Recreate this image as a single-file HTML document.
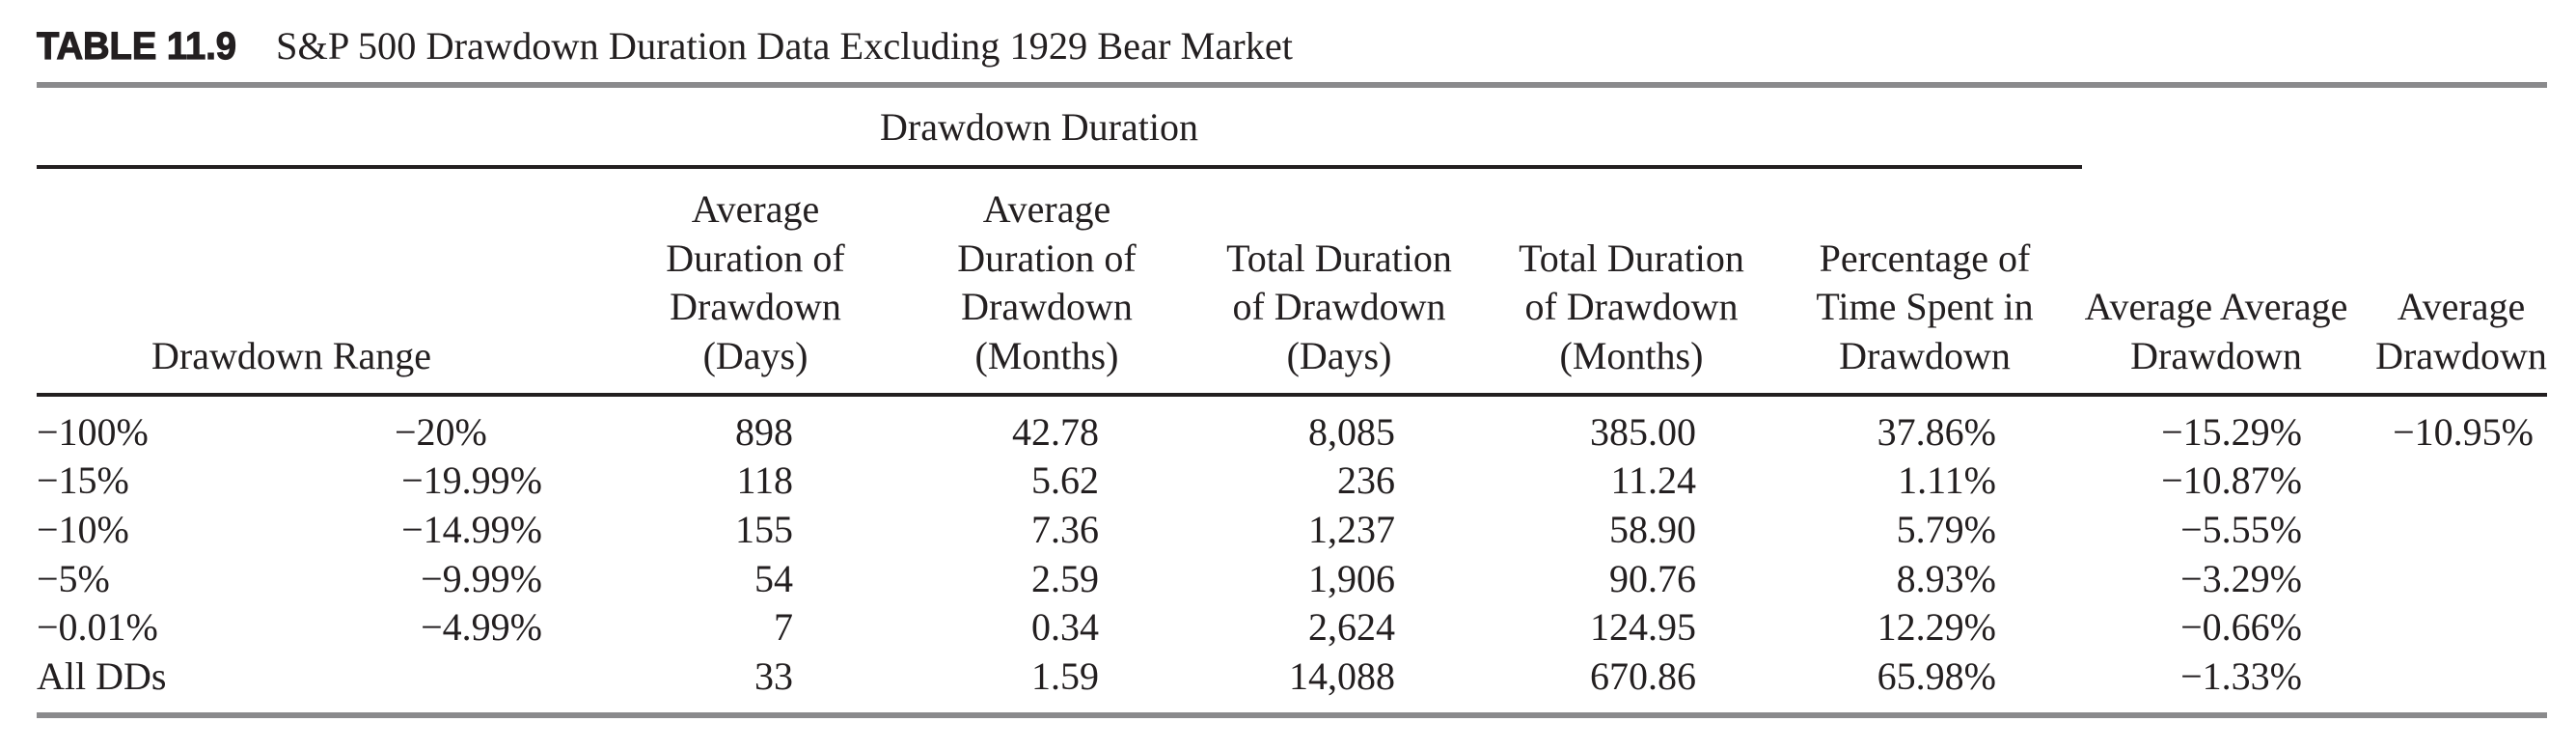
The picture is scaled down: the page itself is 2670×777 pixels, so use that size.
<!DOCTYPE html>
<html><head><meta charset="utf-8"><style>
html,body{margin:0;padding:0;background:#fff;}
svg{display:block;}
text{font-family:"Liberation Serif",serif;font-size:40px;fill:#231f20;}
.h{text-anchor:middle;}
.r{text-anchor:end;}
</style></head><body>
<svg width="2670" height="777" viewBox="0 0 2670 777" xmlns="http://www.w3.org/2000/svg">
<text x="38" y="61" style="font-family:'Liberation Sans',sans-serif;font-weight:bold;font-size:40px;stroke:#231f20;stroke-width:1.2" textLength="207" lengthAdjust="spacingAndGlyphs">TABLE 11.9</text>
<text x="286" y="61" font-size="41" textLength="1054" lengthAdjust="spacingAndGlyphs">S&amp;P 500 Drawdown Duration Data Excluding 1929 Bear Market</text>
<rect x="38" y="85" width="2602" height="6" fill="#8a8a8c"/>
<text class="h" x="1077" y="145">Drawdown Duration</text>
<rect x="38" y="171" width="2120" height="4" fill="#231f20"/>
<text class="h" x="302" y="382">Drawdown Range</text>
<g class="h">
<text class="h" x="783" y="230">Average</text><text class="h" x="783" y="281">Duration of</text><text class="h" x="783" y="331">Drawdown</text><text class="h" x="783" y="382">(Days)</text>
<text class="h" x="1085" y="230">Average</text><text class="h" x="1085" y="281">Duration of</text><text class="h" x="1085" y="331">Drawdown</text><text class="h" x="1085" y="382">(Months)</text>
<text class="h" x="1388" y="281">Total Duration</text><text class="h" x="1388" y="331">of Drawdown</text><text class="h" x="1388" y="382">(Days)</text>
<text class="h" x="1691" y="281">Total Duration</text><text class="h" x="1691" y="331">of Drawdown</text><text class="h" x="1691" y="382">(Months)</text>
<text class="h" x="1995" y="281">Percentage of</text><text class="h" x="1995" y="331">Time Spent in</text><text class="h" x="1995" y="382">Drawdown</text>
<text class="h" x="2297" y="331">Average Average</text><text class="h" x="2297" y="382">Drawdown</text>
<text class="h" x="2551" y="331">Average</text><text class="h" x="2551" y="382">Drawdown</text>
</g>
<rect x="38" y="407" width="2602" height="4" fill="#231f20"/>
<text x="38" y="461">−100%</text><text x="409" y="461">−20%</text><text class="r" x="822" y="461">898</text><text class="r" x="1139" y="461">42.78</text><text class="r" x="1446" y="461">8,085</text><text class="r" x="1758" y="461">385.00</text><text class="r" x="2069" y="461">37.86%</text><text class="r" x="2386" y="461">−15.29%</text><text class="r" x="2626" y="461">−10.95%</text>
<text x="38" y="511">−15%</text><text class="r" x="562" y="511">−19.99%</text><text class="r" x="822" y="511">118</text><text class="r" x="1139" y="511">5.62</text><text class="r" x="1446" y="511">236</text><text class="r" x="1758" y="511">11.24</text><text class="r" x="2069" y="511">1.11%</text><text class="r" x="2386" y="511">−10.87%</text>
<text x="38" y="562">−10%</text><text class="r" x="562" y="562">−14.99%</text><text class="r" x="822" y="562">155</text><text class="r" x="1139" y="562">7.36</text><text class="r" x="1446" y="562">1,237</text><text class="r" x="1758" y="562">58.90</text><text class="r" x="2069" y="562">5.79%</text><text class="r" x="2386" y="562">−5.55%</text>
<text x="38" y="613">−5%</text><text class="r" x="562" y="613">−9.99%</text><text class="r" x="822" y="613">54</text><text class="r" x="1139" y="613">2.59</text><text class="r" x="1446" y="613">1,906</text><text class="r" x="1758" y="613">90.76</text><text class="r" x="2069" y="613">8.93%</text><text class="r" x="2386" y="613">−3.29%</text>
<text x="38" y="663">−0.01%</text><text class="r" x="562" y="663">−4.99%</text><text class="r" x="822" y="663">7</text><text class="r" x="1139" y="663">0.34</text><text class="r" x="1446" y="663">2,624</text><text class="r" x="1758" y="663">124.95</text><text class="r" x="2069" y="663">12.29%</text><text class="r" x="2386" y="663">−0.66%</text>
<text x="38" y="714">All DDs</text><text class="r" x="822" y="714">33</text><text class="r" x="1139" y="714">1.59</text><text class="r" x="1446" y="714">14,088</text><text class="r" x="1758" y="714">670.86</text><text class="r" x="2069" y="714">65.98%</text><text class="r" x="2386" y="714">−1.33%</text>
<rect x="38" y="738" width="2602" height="6" fill="#8a8a8c"/>
</svg>
</body></html>
